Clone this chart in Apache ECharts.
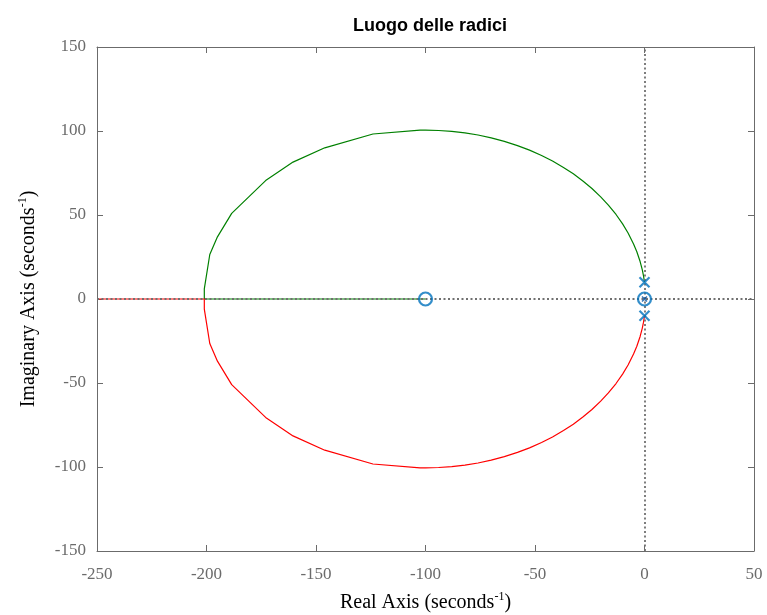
<!DOCTYPE html>
<html>
<head>
<meta charset="utf-8">
<title>Luogo delle radici</title>
<script src="https://cdn.jsdelivr.net/npm/echarts@6/dist/echarts.min.js"></script>
<style>
  html, body { margin: 0; padding: 0; background: #fff; }
  #chart { width: 767px; height: 615px; }
</style>
</head>
<body>
<div id="chart"></div>
<script>
// ramo superiore (verde): dal polo +10j fino al punto di distacco, poi sull'asse reale verso lo zero in -100
const greenRe = [0, -0.5, -1, -2, -3.5, -5, -7.5, -10, -13, -16.5, -20, -24, -28, -32.5, -37, -42, -47, -52.5, -58, -64, -70, -76, -82, -88, -94, -100, -102.5, -124, -146, -160.5, -173, -188.5, -195, -198.5, -201, -201, -100]
const greenIm = [10, 14.1, 17.3, 22.3, 28.1, 32.8, 39.3, 44.7, 50.3, 55.9, 60.8, 65.8, 70.1, 74.5, 78.3, 82.1, 85.4, 88.6, 91.3, 93.8, 95.9, 97.6, 98.9, 99.8, 100.3, 100.5, 100.5, 98.2, 90, 81.5, 70.5, 51, 37, 26.5, 6, 0, 0]
// ramo inferiore (rosso): dal polo -10j fino al punto di distacco, poi verso -infinito
const redRe = [0, -0.5, -1, -2, -3.5, -5, -7.5, -10, -13, -16.5, -20, -24, -28, -32.5, -37, -42, -47, -52.5, -58, -64, -70, -76, -82, -88, -94, -100, -102.5, -124, -146, -160.5, -173, -188.5, -195, -198.5, -201, -201, -250]
const redIm = [-10, -14.1, -17.3, -22.3, -28.1, -32.8, -39.3, -44.7, -50.3, -55.9, -60.8, -65.8, -70.1, -74.5, -78.3, -82.1, -85.4, -88.6, -91.3, -93.8, -95.9, -97.6, -98.9, -99.8, -100.3, -100.5, -100.5, -98.2, -90, -81.5, -70.5, -51, -37, -26.5, -6, 0, 0]
// poli e zeri
const zeros = [[-100, 0], [0, 0]]
const poles = [[0, 10], [0, -10]]
const originPole = [[0, 0]]
// assi
const xTicks = { min: -250, max: 50, interval: 50 }
const yTicks = { min: -150, max: 150, interval: 50 }

const zip = (a, b) => a.map((v, i) => [v, b[i]])

const axisGray = '#6b6b6b'
const labelGray = '#6b6b6b'
const crossPath = 'path://M0,0L10,10M10,0L0,10'

const chart = echarts.init(document.getElementById('chart'))

const baseX = {
  type: 'value',
  min: xTicks.min,
  max: xTicks.max,
  interval: xTicks.interval,
  axisLine: { show: true, onZero: false, lineStyle: { color: axisGray, width: 1 } },
  axisTick: { show: true, inside: true, length: 6, lineStyle: { color: axisGray } },
  splitLine: { show: false }
}
const baseY = {
  type: 'value',
  min: yTicks.min,
  max: yTicks.max,
  interval: yTicks.interval,
  axisLine: { show: true, onZero: false, lineStyle: { color: axisGray, width: 1 } },
  axisTick: { show: true, inside: true, length: 6, lineStyle: { color: axisGray } },
  splitLine: { show: false }
}
const tickFont = { fontFamily: 'Liberation Serif', fontSize: 17, color: labelGray }
const nameRich = {
  n: { fontFamily: 'Liberation Serif', fontSize: 20, color: '#000', lineHeight: 24 },
  s: { fontFamily: 'Liberation Serif', fontSize: 12, color: '#000', lineHeight: 12, verticalAlign: 'top' }
}

const option = {
  animation: false,
  backgroundColor: '#fff',
  title: {
    text: 'Luogo delle radici',
    left: 425,
    textAlign: 'center',
    top: 12,
    textStyle: { fontFamily: 'Liberation Sans', fontWeight: 'bold', fontSize: 18, color: '#000' }
  },
  grid: { left: 97, right: 13, top: 47, bottom: 64, outerBoundsMode: 'none', containLabel: false },
  xAxis: [
    Object.assign({}, baseX, {
      position: 'bottom',
      axisLabel: Object.assign({ margin: 15 }, tickFont),
      name: '{n|Real Axis (seconds}{s|-1}{n|)}',
      nameLocation: 'middle',
      nameGap: 40,
      nameTextStyle: { rich: nameRich }
    }),
    Object.assign({}, baseX, { position: 'top', axisLabel: { show: false } })
  ],
  yAxis: [
    Object.assign({}, baseY, {
      position: 'left',
      axisLabel: Object.assign({ margin: 11 }, tickFont),
      name: '{n|Imaginary Axis (seconds}{s|-1}{n|)}',
      nameLocation: 'middle',
      nameRotate: 90,
      nameGap: 56,
      nameTextStyle: { rich: nameRich }
    }),
    Object.assign({}, baseY, { position: 'right', axisLabel: { show: false } })
  ],
  series: [
    {
      type: 'line',
      data: zip(greenRe, greenIm),
      showSymbol: false,
      clip: true,
      z: 1,
      lineStyle: { color: '#008000', width: 1.2 }
    },
    {
      type: 'line',
      data: zip(redRe, redIm),
      showSymbol: false,
      clip: true,
      z: 1,
      lineStyle: { color: '#ff0000', width: 1.2 }
    },
    {
      // assi tratteggiati x=0 e y=0
      type: 'line',
      data: [],
      z: 3,
      markLine: {
        silent: true,
        symbol: 'none',
        z: 3,
        label: { show: false },
        lineStyle: { color: '#707070', type: [2, 2.5], width: 1.8 },
        data: [{ xAxis: 0 }, { yAxis: 0 }]
      }
    },
    {
      type: 'scatter',
      data: zeros,
      z: 4,
      symbol: 'circle',
      symbolSize: 13,
      itemStyle: { color: 'rgba(0,0,0,0)', borderColor: '#0072BD', borderWidth: 2.2 }
    },
    {
      type: 'scatter',
      data: poles,
      z: 4,
      symbol: crossPath,
      symbolSize: 10,
      itemStyle: { color: 'rgba(0,0,0,0)', borderColor: '#0072BD', borderWidth: 2.2 }
    },
    {
      type: 'scatter',
      data: originPole,
      z: 5,
      symbol: crossPath,
      symbolSize: 5,
      itemStyle: { color: 'rgba(0,0,0,0)', borderColor: '#0050a0', borderWidth: 1.5 }
    }
  ]
}

chart.setOption(option)
window.onresize = () => {
  chart.resize()
}
</script>
</body>
</html>
